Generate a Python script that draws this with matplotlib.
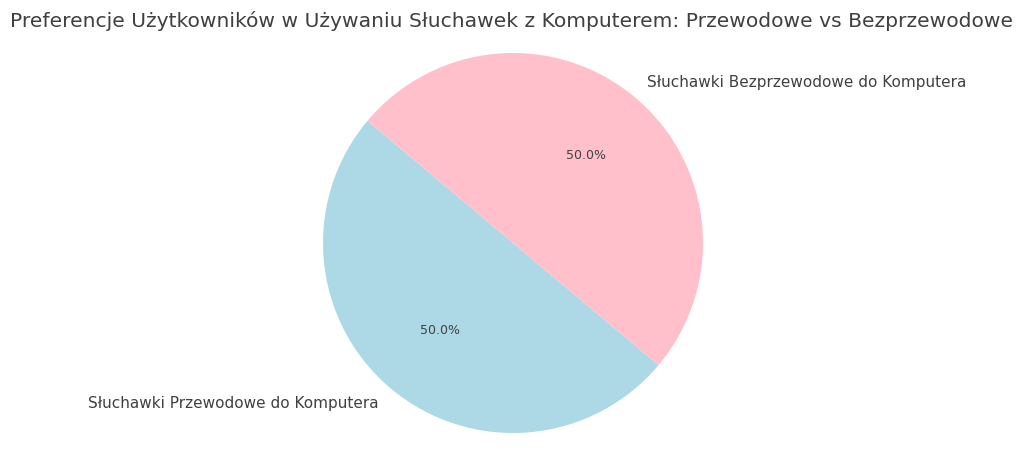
import matplotlib
matplotlib.use("Agg")
import matplotlib.pyplot as plt

plt.rcParams["font.family"] = ["DejaVu Sans"]

labels = ["Słuchawki Przewodowe do Komputera", "Słuchawki Bezprzewodowe do Komputera"]
values = [50, 50]
colors = ["lightblue", "pink"]
title = "Preferencje Użytkowników w Używaniu Słuchawek z Komputerem: Przewodowe vs Bezprzewodowe"

text_color = "#404040"

fig = plt.figure(figsize=(10.24, 4.65), dpi=100)
W, H = 1024, 465
cx, cy, r = 513, 465 - 243, 190
half = 1.1 * r
ax = fig.add_axes([(cx - half) / W, (cy - half) / H, 2 * half / W, 2 * half / H])
wedges, texts, autotexts = ax.pie(values, labels=labels, colors=colors, autopct="%1.1f%%",
                                  startangle=140, textprops={"color": text_color})
for t in texts:
    t.set_fontsize(11)
for t in autotexts:
    t.set_fontsize(9)
ax.set_xlim(-1.1, 1.1)
ax.set_ylim(-1.1, 1.1)
ax.set_aspect("equal")
ax.axis("off")
fig.text(0.5, (465 - 21) / H, title, ha="center", va="center", fontsize=14.6, color=text_color)
fig.savefig("out.png", dpi=100)
